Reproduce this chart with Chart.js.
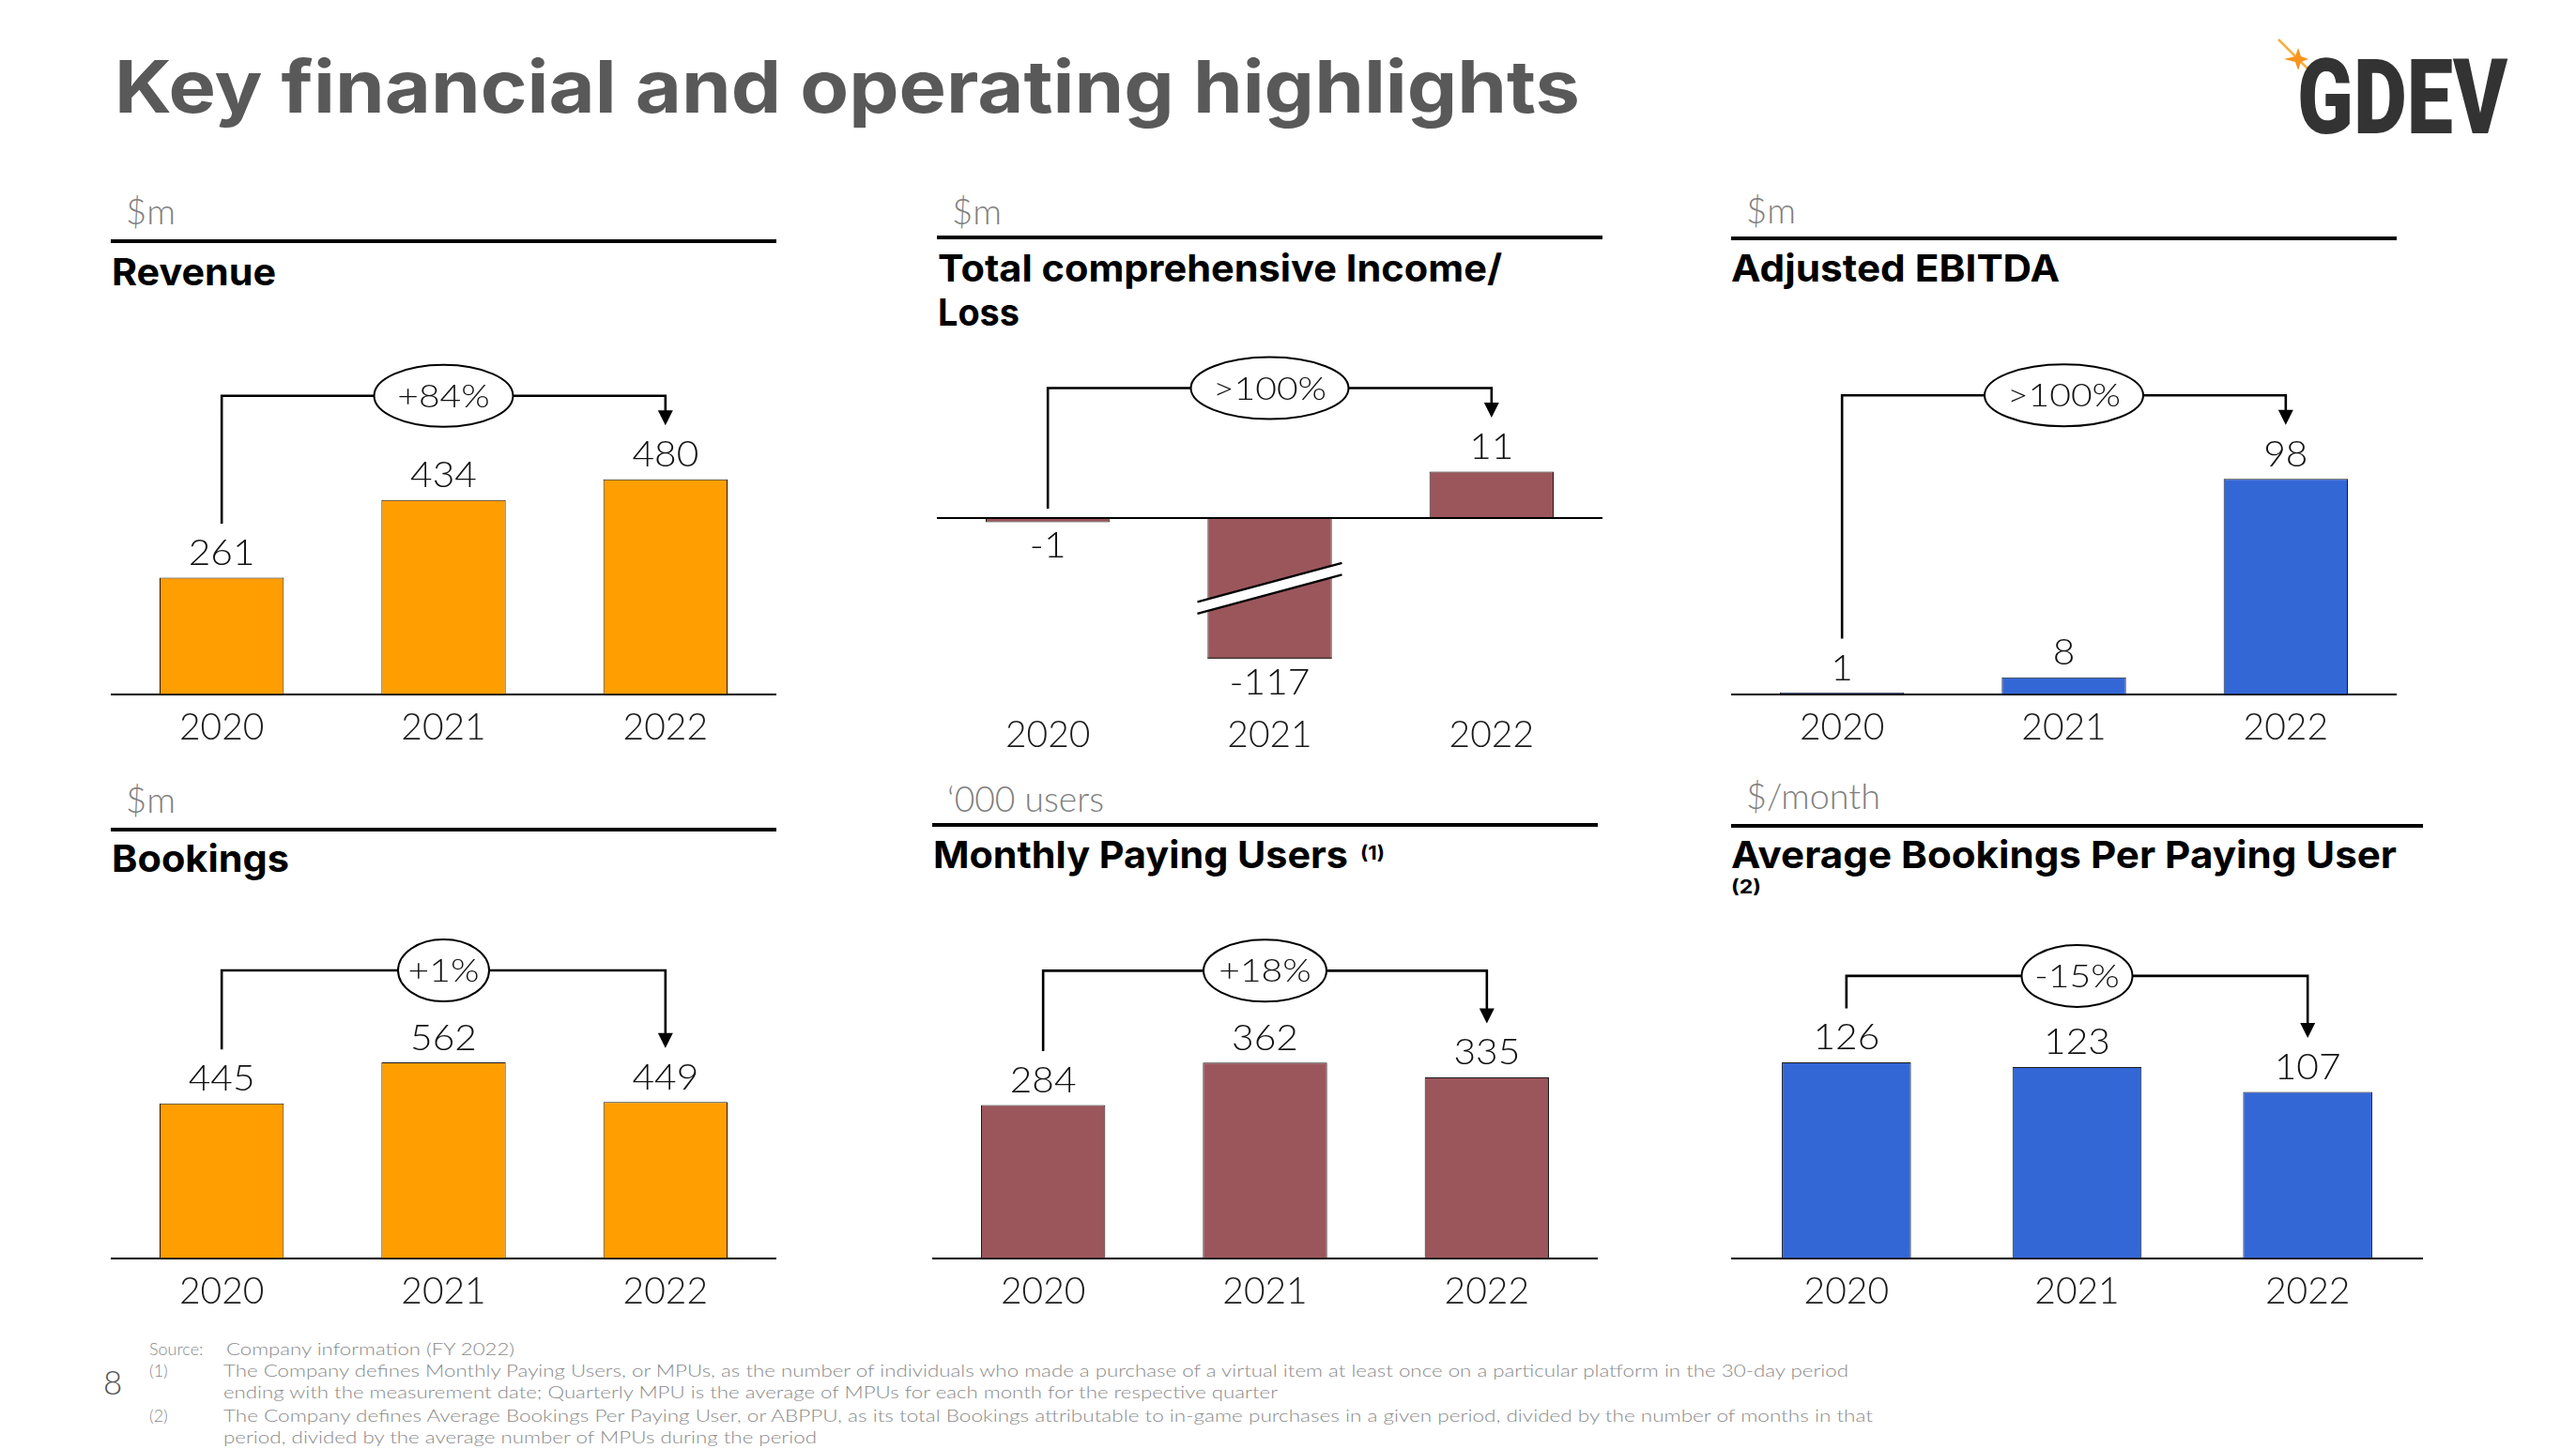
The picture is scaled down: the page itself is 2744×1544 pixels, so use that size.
<!DOCTYPE html>
<html>
<head>
<meta charset="utf-8">
<script src="https://cdn.jsdelivr.net/npm/chart.js@4.4.0/dist/chart.umd.min.js"></script>
<style>
  html, body { margin: 0; padding: 0; background: #fff; }
  body { width: 2744px; height: 1544px; position: relative; overflow: hidden; font-family: Lato, sans-serif; }
  .t { position: absolute; white-space: nowrap; line-height: 1; transform-origin: 0 0; }
  .title { font-family: Inter, sans-serif; font-weight: 700; font-size: 77px; color: #595959; }
  .h { font-family: Inter, sans-serif; font-weight: 700; font-size: 40px; color: #000; }
  .sup { font-family: Inter, sans-serif; font-weight: 700; font-size: 20px; color: #000; }
  .u { font-weight: 300; font-size: 37px; color: #7f7f7f; }
  .fn { font-weight: 300; font-size: 18px; color: #8a8a8a; }
  .pg { font-weight: 300; font-size: 35px; color: #555; }
  .logo { font-family: Roboto, sans-serif; font-weight: 900; font-size: 112px; color: #333; }
  .rule { position: absolute; height: 4px; background: #000; }
  canvas { position: absolute; }
</style>
</head>
<body>
<svg style="position:absolute;left:2415px;top:30px" width="70" height="70" viewBox="2415 30 70 70">
  <line x1="2427" y1="42" x2="2468" y2="83" stroke="#f5b041" stroke-width="2.5"/>
  <path d="M2448 51 L2451 60 L2459 63 L2451 66 L2448 75 L2445 66 L2433 63 L2445 60 Z" fill="#f7941d"/>
</svg>
<script>
// data
var years = ['2020', '2021', '2022'];
var revenue = [261, 434, 480];
var comprehensiveIncome = [-1, -117, 11];
var adjustedEbitda = [1, 8, 98];
var bookings = [445, 562, 449];
var monthlyPayingUsers = [284, 362, 335];
var bookingsPerPayingUser = [126, 123, 107];
var growth = ['+84%', '>100%', '>100%', '+1%', '+18%', '-15%'];

var orange = '#FF9E00';
var maroon = '#9B565C';
var blue = '#3467D6';

Chart.defaults.font.family = 'Lato';

// put a text so that its baseline lands on y
function txt(s, x, base, cls, w) {
  var d = document.createElement('div');
  d.className = 't ' + cls;
  d.textContent = s;
  var m = document.createElement('span');
  m.style.cssText = 'display:inline-block;width:0;height:0;vertical-align:baseline';
  d.appendChild(m);
  document.body.appendChild(d);
  d.style.left = x + 'px';
  d.style.top = (base - m.offsetTop) + 'px';
  if (w) {
    d.style.transform = 'scaleX(' + (w / d.getBoundingClientRect().width) + ')';
  }
  return d;
}

function rule(x, y, w) {
  var r = document.createElement('div');
  r.className = 'rule';
  r.style.left = x + 'px';
  r.style.top = y + 'px';
  r.style.width = w + 'px';
  document.body.appendChild(r);
}

txt('Key financial and operating highlights', 122, 120, 'title', 1561);
txt('GDEV', 2447, 142, 'logo', 224);

// panel headers
txt('$m', 134, 239, 'u', 53);
rule(118, 255, 709);
txt('Revenue', 119, 304, 'h', 175);

txt('$m', 1014, 239, 'u', 53);
rule(998, 251, 709);
txt('Total comprehensive Income/', 999, 300, 'h', 601);
txt('Loss', 999, 347, 'h', 87);

txt('$m', 1860, 238, 'u', 53);
rule(1844, 252, 709);
txt('Adjusted EBITDA', 1844, 300, 'h', 350);

txt('$m', 134, 866, 'u', 53);
rule(118, 882, 709);
txt('Bookings', 119, 929, 'h', 189);

txt('\u2018000 users', 1009, 865, 'u', 167);
rule(993, 877, 709);
txt('Monthly Paying Users', 994, 925, 'h', 442);
txt('(1)', 1449, 916, 'sup', 26);

txt('$/month', 1860, 862, 'u', 143);
rule(1844, 878, 737);
txt('Average Bookings Per Paying User', 1844, 925, 'h', 709);
txt('(2)', 1844, 952, 'sup', 32);

// footnotes
txt('Source:', 159, 1444, 'fn');
txt('Company information (FY 2022)', 241, 1444, 'fn', 307);
txt('(1)', 159, 1467, 'fn');
txt('The Company defines Monthly Paying Users, or MPUs, as the number of individuals who made a purchase of a virtual item at least once on a particular platform in the 30-day period', 238, 1467, 'fn', 1731);
txt('ending with the measurement date; Quarterly MPU is the average of MPUs for each month for the respective quarter', 238, 1490, 'fn', 1123);
txt('(2)', 159, 1515, 'fn');
txt('The Company defines Average Bookings Per Paying User, or ABPPU, as its total Bookings attributable to in-game purchases in a given period, divided by the number of months in that', 238, 1515, 'fn', 1757);
txt('period, divided by the average number of MPUs during the period', 238, 1538, 'fn', 632);
txt('8', 110, 1486, 'pg');

// text drawn a little wider, like the slide's light face
function wideText(ctx, s, x, y, sx) {
  ctx.save();
  ctx.translate(x, y);
  ctx.scale(sx, 1);
  ctx.fillText(s, 0, 0);
  ctx.restore();
}

// value labels, growth bracket and axis break
var highlights = {
  id: 'highlights',
  afterDatasetsDraw: function (chart, args, o) {
    var ctx = chart.ctx, area = chart.chartArea, y = chart.scales.y;
    var bars = chart.getDatasetMeta(0).data;
    var vals = chart.data.datasets[0].data;
    var zero = y.getPixelForValue(0);
    var floor = area.bottom - (o.cut || 0);
    ctx.save();

    if (o.breakAt != null) {
      var b = bars[o.breakAt].getProps(['x', 'y', 'width']);
      var mid = (zero + floor) / 2, hw = 77, dy = 20.75, th = 12.5;
      ctx.strokeStyle = '#1a1a1a';
      ctx.lineWidth = 1;
      ctx.beginPath();
      ctx.moveTo(b.x - b.width / 2, floor - 0.5);
      ctx.lineTo(b.x + b.width / 2, floor - 0.5);
      ctx.stroke();
      ctx.beginPath();
      ctx.moveTo(b.x - hw, mid + dy - th / 2);
      ctx.lineTo(b.x + hw, mid - dy - th / 2);
      ctx.lineTo(b.x + hw, mid - dy + th / 2);
      ctx.lineTo(b.x - hw, mid + dy + th / 2);
      ctx.closePath();
      ctx.fillStyle = '#fff';
      ctx.fill();
      ctx.strokeStyle = '#000';
      ctx.lineWidth = 2.2;
      ctx.beginPath();
      ctx.moveTo(b.x - hw, mid + dy - th / 2);
      ctx.lineTo(b.x + hw, mid - dy - th / 2);
      ctx.moveTo(b.x - hw, mid + dy + th / 2);
      ctx.lineTo(b.x + hw, mid - dy + th / 2);
      ctx.stroke();
    }

    ctx.font = '300 37px Lato';
    ctx.fillStyle = '#111';
    ctx.textAlign = 'center';
    ctx.textBaseline = 'alphabetic';
    var tops = [];
    bars.forEach(function (bar, i) {
      var v = vals[i];
      if (v >= 0) {
        wideText(ctx, String(v), bar.x, bar.y - 13.5, 1.1);
        tops.push(bar.y - 40);
      } else {
        wideText(ctx, String(v), bar.x, Math.min(bar.y, floor) + 38, 1.1);
        tops.push(zero + 7.5);
      }
    });

    var by = y.getPixelForValue(Math.max.apply(null, vals)) - o.rise;
    var x0 = bars[0].x, xm = bars[1].x, x2 = bars[bars.length - 1].x;
    var start = tops[0] - 17.5;
    var tip = tops[tops.length - 1] - 17.5;
    ctx.strokeStyle = '#000';
    ctx.lineWidth = 2.6;
    ctx.beginPath();
    ctx.moveTo(x0, start);
    ctx.lineTo(x0, by);
    ctx.lineTo(x2, by);
    ctx.lineTo(x2, tip - 14);
    ctx.stroke();
    ctx.beginPath();
    ctx.moveTo(x2 - 8, tip - 16);
    ctx.lineTo(x2 + 8, tip - 16);
    ctx.lineTo(x2, tip);
    ctx.closePath();
    ctx.fillStyle = '#000';
    ctx.fill();

    ctx.beginPath();
    ctx.ellipse(xm, by, o.oval / 2, 33, 0, 0, Math.PI * 2);
    ctx.fillStyle = '#fff';
    ctx.fill();
    ctx.lineWidth = 2;
    ctx.stroke();
    ctx.font = '300 34px Lato';
    ctx.fillStyle = '#111';
    ctx.textBaseline = 'middle';
    wideText(ctx, o.growth, xm, by + 1, 1.15);
    ctx.restore();
  }
};

// geometry of each panel (page pixels); y range gives the drawing scale
var panels = [
  { data: revenue, growth: growth[0], color: orange, left: 118, right: 827, top: 350, bottom: 740, min: 0, max: 816, rise: 89, oval: 148 },
  { data: comprehensiveIncome, growth: growth[1], color: maroon, left: 998, right: 1707, top: 358, bottom: 748, min: -43.7, max: 43.16, rise: 89, oval: 168, cut: 46.7, breakAt: 1 },
  { data: adjustedEbitda, growth: growth[2], color: blue, left: 1844, right: 2553, top: 350, bottom: 740, min: 0, max: 166.2, rise: 89, oval: 169 },
  { data: bookings, growth: growth[3], color: orange, left: 118, right: 827, top: 951, bottom: 1341, min: 0, max: 1048, rise: 98, oval: 97 },
  { data: monthlyPayingUsers, growth: growth[4], color: maroon, left: 993, right: 1702, top: 951, bottom: 1341, min: 0, max: 676, rise: 98, oval: 131 },
  { data: bookingsPerPayingUser, growth: growth[5], color: blue, left: 1844, right: 2581, top: 951, bottom: 1341, min: 0, max: 234.8, rise: 92, oval: 118 }
];

panels.forEach(function (p) {
  var c = document.createElement('canvas');
  var w = p.right - p.left, h = p.bottom - p.top + 70;
  c.width = w;
  c.height = h;
  c.style.left = p.left + 'px';
  c.style.top = p.top + 'px';
  c.style.width = w + 'px';
  c.style.height = h + 'px';
  document.body.appendChild(c);

  new Chart(c, {
    type: 'bar',
    data: {
      labels: years,
      datasets: [{
        data: p.data,
        backgroundColor: p.color,
        borderColor: '#1a1a1a',
        borderWidth: 1,
        barPercentage: 0.56,
        categoryPercentage: 1,
        clip: p.cut ? { left: false, right: false, top: false, bottom: -p.cut } : false
      }]
    },
    options: {
      responsive: false,
      animation: false,
      devicePixelRatio: 1,
      layout: { padding: 0 },
      plugins: {
        legend: { display: false },
        tooltip: { enabled: false },
        highlights: { growth: p.growth, rise: p.rise, oval: p.oval, cut: p.cut || 0, breakAt: p.breakAt }
      },
      scales: {
        x: {
          grid: { display: false, drawTicks: false },
          border: { display: false },
          ticks: { color: '#1a1a1a', padding: 11, font: { size: 39, weight: 300, lineHeight: 1.22 } }
        },
        y: {
          min: p.min,
          max: p.max,
          z: 1,
          afterBuildTicks: function (s) { s.ticks = [{ value: 0 }]; },
          ticks: { display: false },
          border: { display: false },
          grid: { drawTicks: false, color: '#000', lineWidth: 2 }
        }
      }
    },
    plugins: [highlights]
  });
});
</script>
</body>
</html>
